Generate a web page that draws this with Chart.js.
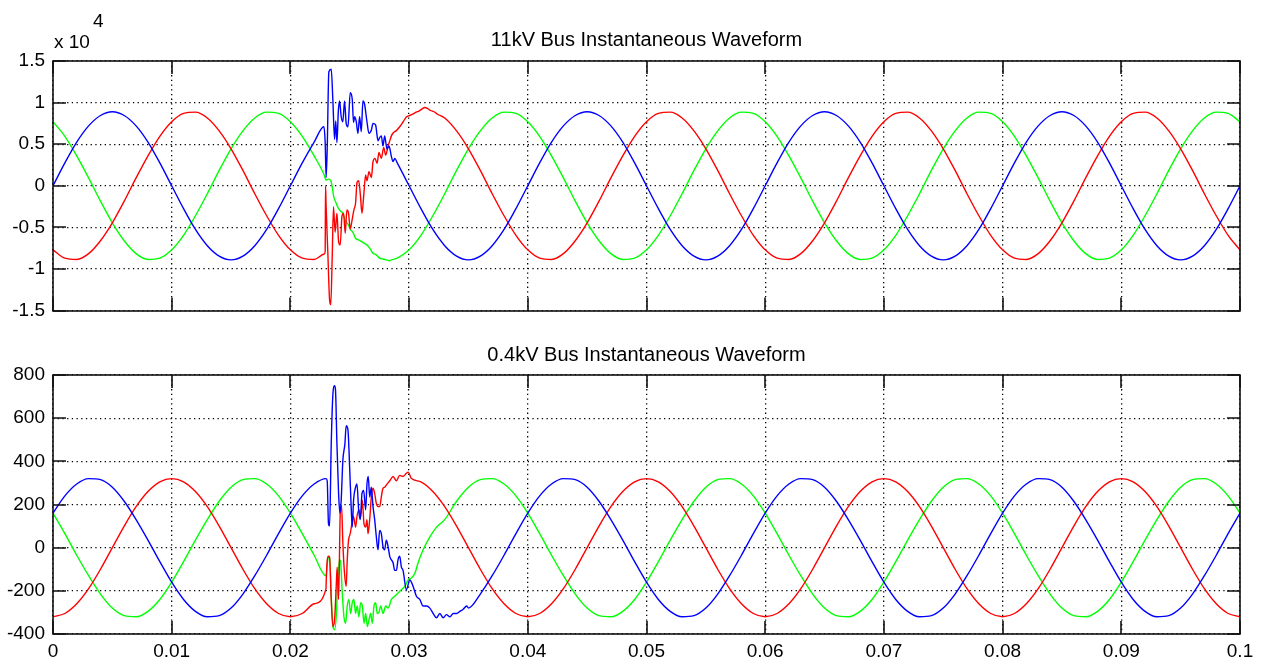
<!DOCTYPE html>
<html>
<head>
<meta charset="utf-8">
<title>Bus Instantaneous Waveforms</title>
<script src="https://cdn.jsdelivr.net/npm/chart.js@4.4.1/dist/chart.umd.min.js"></script>
<style>
  body { margin: 0; background: #fff; }
  #wrap { position: relative; width: 1262px; height: 668px; background: #fff; }
  canvas { position: absolute; left: 0; }
  #chart11 { top: 0; }
  #chart04 { top: 330px; }
</style>
</head>
<body>
<div id="wrap">
  <canvas id="chart11" width="1262" height="330"></canvas>
  <canvas id="chart04" width="1262" height="338"></canvas>
</div>
<script>
'use strict';

// time samples (s) for the steady-state parts of the waveforms
const time = [
  0, 0.001, 0.002, 0.003, 0.004, 0.005, 0.006, 0.007, 0.008, 0.009,
  0.010, 0.011, 0.012, 0.013, 0.014, 0.015, 0.016, 0.017, 0.018, 0.019,
  0.020, 0.021, 0.022, 0.023, 0.024, 0.025, 0.026, 0.027, 0.028, 0.029,
  0.030, 0.031, 0.032, 0.033, 0.034, 0.035, 0.036, 0.037, 0.038, 0.039,
  0.040, 0.041, 0.042, 0.043, 0.044, 0.045, 0.046, 0.047, 0.048, 0.049,
  0.050, 0.051, 0.052, 0.053, 0.054, 0.055, 0.056, 0.057, 0.058, 0.059,
  0.060, 0.061, 0.062, 0.063, 0.064, 0.065, 0.066, 0.067, 0.068, 0.069,
  0.070, 0.071, 0.072, 0.073, 0.074, 0.075, 0.076, 0.077, 0.078, 0.079,
  0.080, 0.081, 0.082, 0.083, 0.084, 0.085, 0.086, 0.087, 0.088, 0.089,
  0.090, 0.091, 0.092, 0.093, 0.094, 0.095, 0.096, 0.097, 0.098, 0.099,
  0.100
];

// 11kV bus (V)
const blue11 = [
  0, 2750, 5250, 7200, 8450, 8900, 8450, 7200, 5250, 2750, 0, -2750, -5250, -7200, -8450, -8900, -8450, -7200, -5250, -2750,
  0, 2750, 5250, 7200, 8450, 8900, 8450, 7200, 5250, 2750, 0, -2750, -5250, -7200, -8450, -8900, -8450, -7200, -5250, -2750,
  0, 2750, 5250, 7200, 8450, 8900, 8450, 7200, 5250, 2750, 0, -2750, -5250, -7200, -8450, -8900, -8450, -7200, -5250, -2750,
  0, 2750, 5250, 7200, 8450, 8900, 8450, 7200, 5250, 2750, 0, -2750, -5250, -7200, -8450, -8900, -8450, -7200, -5250, -2750,
  0, 2750, 5250, 7200, 8450, 8900, 8450, 7200, 5250, 2750, 0, -2750, -5250, -7200, -8450, -8900, -8450, -7200, -5250, -2750,
  0
];
const red11 = [
  -7700, -8700, -8850, -8150, -6600, -4450, -1850, 950, 3600, 5950, 7700, 8700, 8850, 8150, 6600, 4450, 1850, -950, -3600, -5950,
  -7700, -8700, -8850, -8150, -6600, -4450, -1850, 950, 3600, 5950, 7700, 8700, 8850, 8150, 6600, 4450, 1850, -950, -3600, -5950,
  -7700, -8700, -8850, -8150, -6600, -4450, -1850, 950, 3600, 5950, 7700, 8700, 8850, 8150, 6600, 4450, 1850, -950, -3600, -5950,
  -7700, -8700, -8850, -8150, -6600, -4450, -1850, 950, 3600, 5950, 7700, 8700, 8850, 8150, 6600, 4450, 1850, -950, -3600, -5950,
  -7700, -8700, -8850, -8150, -6600, -4450, -1850, 950, 3600, 5950, 7700, 8700, 8850, 8150, 6600, 4450, 1850, -950, -3600, -5950,
  -7700
];
const green11 = [
  7700, 5950, 3600, 950, -1850, -4450, -6600, -8150, -8850, -8700, -7700, -5950, -3600, -950, 1850, 4450, 6600, 8150, 8850, 8700,
  7700, 5950, 3600, 950, -1850, -4450, -6600, -8150, -8850, -8700, -7700, -5950, -3600, -950, 1850, 4450, 6600, 8150, 8850, 8700,
  7700, 5950, 3600, 950, -1850, -4450, -6600, -8150, -8850, -8700, -7700, -5950, -3600, -950, 1850, 4450, 6600, 8150, 8850, 8700,
  7700, 5950, 3600, 950, -1850, -4450, -6600, -8150, -8850, -8700, -7700, -5950, -3600, -950, 1850, 4450, 6600, 8150, 8850, 8700,
  7700, 5950, 3600, 950, -1850, -4450, -6600, -8150, -8850, -8700, -7700, -5950, -3600, -950, 1850, 4450, 6600, 8150, 8850, 8700,
  7700
];

// 11kV fault transient [t, V]
const blue11Fault = [
  [0.02282, 7100], [0.02293, 5200], [0.02301, 1000], [0.02310, 4400], [0.02324, 13700], [0.02344, 14000],
  [0.02358, 10200], [0.02372, 5600], [0.02382, 7800], [0.02392, 5200], [0.02404, 9000], [0.02414, 10200],
  [0.02428, 8300], [0.02442, 7700], [0.02456, 10200], [0.02470, 7500], [0.02485, 7100], [0.02504, 11200],
  [0.02521, 10400], [0.02532, 7600], [0.02541, 8300], [0.02555, 7700], [0.02569, 6300], [0.02583, 8300],
  [0.02597, 6500], [0.02611, 10200], [0.02625, 9800], [0.02645, 7700], [0.02662, 6300], [0.02682, 6700],
  [0.02696, 7500], [0.02718, 7300], [0.02738, 5400], [0.02752, 5800], [0.02766, 6000], [0.02780, 4800],
  [0.02794, 6000], [0.02814, 4400], [0.02831, 4800], [0.02851, 3500], [0.02865, 2900], [0.02879, 3300]
];
const red11Fault = [
  [0.02285, -8200], [0.02293, -7900], [0.02296, 0], [0.02301, -2500], [0.02315, -7900], [0.02330, -13700],
  [0.02340, -14300], [0.02352, -8700], [0.02363, -2500], [0.02377, -5600], [0.02392, -3300], [0.02406, -6700],
  [0.02420, -7100], [0.02434, -3700], [0.02448, -3300], [0.02462, -5700], [0.02476, -2900], [0.02490, -3300],
  [0.02504, -5200], [0.02521, -4000], [0.02535, -2900], [0.02549, -2100], [0.02561, 400], [0.02575, 600],
  [0.02589, -1000], [0.02603, -3300], [0.02617, -1300], [0.02634, 1300], [0.02645, 600], [0.02662, 1700],
  [0.02682, 1000], [0.02696, 2900], [0.02713, 3300], [0.02730, 2700], [0.02746, 4000], [0.02766, 3300],
  [0.02786, 4600], [0.02803, 3700], [0.02823, 4800], [0.02837, 5400], [0.02851, 6000], [0.02865, 6350],
  [0.02890, 6600], [0.02921, 7100], [0.02950, 7700], [0.02977, 8270], [0.03005, 8450], [0.03034, 8650],
  [0.03060, 8850], [0.03090, 9040], [0.03110, 9250], [0.03132, 9420], [0.03155, 9300], [0.03180, 9050],
  [0.03210, 8900], [0.03240, 8600]
];
const green11Fault = [
  [0.02285, 1300], [0.02300, 700], [0.02320, 800], [0.02340, 600], [0.02352, -100], [0.02365, -1300],
  [0.02386, -2100], [0.02400, -2600], [0.02420, -3000], [0.02442, -3300], [0.02462, -4200], [0.02485, -4600],
  [0.02504, -5200], [0.02527, -5600], [0.02549, -6300], [0.02575, -6500], [0.02600, -6700], [0.02620, -6900],
  [0.02645, -7100], [0.02668, -7500], [0.02696, -8100], [0.02724, -8300], [0.02752, -8700], [0.02780, -8800],
  [0.02808, -8900], [0.02837, -9000], [0.02850, -8900]
];

// 0.4kV bus (V)
const blue04 = [
  160, 240, 295, 320, 315, 280, 215, 130, 35, -65, -160, -240, -295, -320, -315, -280, -215, -130, -35, 65,
  160, 240, 295, 320, 315, 280, 215, 130, 35, -65, -160, -240, -295, -320, -315, -280, -215, -130, -35, 65,
  160, 240, 295, 320, 315, 280, 215, 130, 35, -65, -160, -240, -295, -320, -315, -280, -215, -130, -35, 65,
  160, 240, 295, 320, 315, 280, 215, 130, 35, -65, -160, -240, -295, -320, -315, -280, -215, -130, -35, 65,
  160, 240, 295, 320, 315, 280, 215, 130, 35, -65, -160, -240, -295, -320, -315, -280, -215, -130, -35, 65,
  160
];
const red04 = [
  -320, -305, -260, -190, -100, 0, 100, 190, 260, 305, 320, 305, 260, 190, 100, 0, -100, -190, -260, -305,
  -320, -305, -260, -190, -100, 0, 100, 190, 260, 305, 320, 305, 260, 190, 100, 0, -100, -190, -260, -305,
  -320, -305, -260, -190, -100, 0, 100, 190, 260, 305, 320, 305, 260, 190, 100, 0, -100, -190, -260, -305,
  -320, -305, -260, -190, -100, 0, 100, 190, 260, 305, 320, 305, 260, 190, 100, 0, -100, -190, -260, -305,
  -320, -305, -260, -190, -100, 0, 100, 190, 260, 305, 320, 305, 260, 190, 100, 0, -100, -190, -260, -305,
  -320
];
const green04 = [
  160, 65, -35, -130, -215, -280, -315, -320, -295, -240, -160, -65, 35, 130, 215, 280, 315, 320, 295, 240,
  160, 65, -35, -130, -215, -280, -315, -320, -295, -240, -160, -65, 35, 130, 215, 280, 315, 320, 295, 240,
  160, 65, -35, -130, -215, -280, -315, -320, -295, -240, -160, -65, 35, 130, 215, 280, 315, 320, 295, 240,
  160, 65, -35, -130, -215, -280, -315, -320, -295, -240, -160, -65, 35, 130, 215, 280, 315, 320, 295, 240,
  160, 65, -35, -130, -215, -280, -315, -320, -295, -240, -160, -65, 35, 130, 215, 280, 315, 320, 295, 240,
  160
];

// 0.4kV fault transient [t, V]
const blue04Fault = [
  [0.02301, 320], [0.02310, 310], [0.02321, 110], [0.02330, 100], [0.02344, 480], [0.02358, 710],
  [0.02372, 750], [0.02380, 730], [0.02392, 480], [0.02406, 250], [0.02417, 160], [0.02428, 220],
  [0.02442, 405], [0.02459, 480], [0.02470, 565], [0.02485, 545], [0.02499, 375], [0.02513, 175],
  [0.02521, 95], [0.02532, 220], [0.02549, 280], [0.02561, 295], [0.02575, 175], [0.02589, 130],
  [0.02603, 250], [0.02617, 265], [0.02634, 175], [0.02645, 295], [0.02656, 330], [0.02668, 235],
  [0.02682, 280], [0.02696, 190], [0.02710, 130], [0.02724, 50], [0.02738, -10], [0.02752, 80],
  [0.02766, 65], [0.02780, 5], [0.02794, -10], [0.02808, 35], [0.02823, 5], [0.02837, -40],
  [0.02865, -70], [0.02879, -105], [0.02893, -105], [0.02907, -55], [0.02921, -40], [0.02935, -90],
  [0.02949, -105], [0.02977, -195], [0.03006, -150], [0.03034, -180], [0.03062, -225], [0.03090, -240],
  [0.03118, -270], [0.03146, -270], [0.03175, -280], [0.03203, -305], [0.03231, -325], [0.03259, -305],
  [0.03287, -325], [0.03315, -310], [0.03344, -320], [0.03372, -305], [0.03400, -305], [0.03428, -295],
  [0.03456, -285], [0.03485, -270]
];
const red04Fault = [
  [0.02301, -170], [0.02310, -60], [0.02321, -40], [0.02330, -45], [0.02344, -240], [0.02358, -365],
  [0.02372, -335], [0.02386, -180], [0.02394, -90], [0.02406, -240], [0.02420, 160], [0.02431, 195],
  [0.02442, 20], [0.02456, -120], [0.02470, -180], [0.02479, -55], [0.02490, 35], [0.02504, 65],
  [0.02518, 110], [0.02532, 145], [0.02549, 95], [0.02561, 145], [0.02577, 175], [0.02592, 145],
  [0.02606, 220], [0.02620, 110], [0.02634, 95], [0.02645, 130], [0.02654, 65], [0.02668, 130],
  [0.02682, 235], [0.02696, 275], [0.02710, 250], [0.02724, 205], [0.02738, 190], [0.02752, 190],
  [0.02766, 235], [0.02780, 275], [0.02794, 280], [0.02808, 290], [0.02837, 310], [0.02865, 330],
  [0.02893, 310], [0.02921, 335], [0.02949, 330], [0.02977, 345], [0.02992, 350], [0.03020, 320]
];
const green04Fault = [
  [0.02315, -55], [0.02330, -40], [0.02344, -225], [0.02358, -365], [0.02372, -380], [0.02386, -320],
  [0.02400, -150], [0.02414, -55], [0.02423, -65], [0.02437, -210], [0.02451, -320], [0.02465, -350],
  [0.02479, -270], [0.02493, -240], [0.02507, -305], [0.02521, -255], [0.02535, -240], [0.02549, -305],
  [0.02563, -270], [0.02577, -320], [0.02592, -255], [0.02606, -270], [0.02620, -350], [0.02634, -305],
  [0.02648, -365], [0.02662, -335], [0.02676, -305], [0.02690, -350], [0.02704, -270], [0.02718, -255],
  [0.02732, -305], [0.02746, -300], [0.02761, -270], [0.02780, -305], [0.02803, -270], [0.02823, -280],
  [0.02851, -240], [0.02879, -225], [0.02907, -210], [0.02935, -195], [0.02963, -180], [0.02992, -150],
  [0.03020, -140], [0.03048, -120], [0.03076, -70], [0.03118, -10], [0.03175, 50], [0.03231, 95]
];

const xTicks = { min: 0, max: 0.1, step: 0.01 };
const FONT = "'Liberation Sans', Arial, sans-serif";

// steady samples outside the fault window + the fault samples
function buildSeries(steady, fault) {
  let start = fault[0][0];
  let end = fault[fault.length - 1][0];
  let pts = [];
  for (let i = 0; i < time.length; i++) {
    if (time[i] < start || time[i] > end) pts.push({ x: time[i], y: steady[i] });
  }
  fault.forEach(p => pts.push({ x: p[0], y: p[1] }));
  pts.sort((a, b) => a.x - b.x);
  return pts;
}

function lineSet(label, color, data) {
  return {
    label: label,
    data: data,
    borderColor: color,
    borderWidth: 1.4,
    pointRadius: 0,
    fill: false,
    cubicInterpolationMode: 'monotone'
  };
}

// matlab style box with inward tick marks
const matlabBox = {
  id: 'matlabBox',
  afterDraw(chart) {
    let ctx = chart.ctx;
    let a = chart.chartArea;
    let xs = chart.scales.x;
    let ys = chart.scales.y;
    let len = 13;
    ctx.save();
    ctx.strokeStyle = '#111';
    ctx.lineWidth = 1.6;
    ctx.beginPath();
    xs.ticks.forEach(t => {
      let px = Math.round(xs.getPixelForValue(t.value));
      ctx.moveTo(px, a.bottom); ctx.lineTo(px, a.bottom - len);
      ctx.moveTo(px, a.top); ctx.lineTo(px, a.top + len);
    });
    ys.ticks.forEach(t => {
      let py = Math.round(ys.getPixelForValue(t.value));
      ctx.moveTo(a.left, py); ctx.lineTo(a.left + len, py);
      ctx.moveTo(a.right, py); ctx.lineTo(a.right - len, py);
    });
    ctx.stroke();
    ctx.strokeRect(Math.round(a.left), Math.round(a.top), Math.round(a.right - a.left), Math.round(a.bottom - a.top));
    ctx.restore();
  }
};

// "x 10^4" multiplier above the top axis
const exponentLabel = {
  id: 'exponentLabel',
  afterDraw(chart) {
    let ctx = chart.ctx;
    ctx.save();
    ctx.fillStyle = '#000';
    ctx.textBaseline = 'alphabetic';
    ctx.textAlign = 'left';
    ctx.font = '19px ' + FONT;
    ctx.fillText('x 10', 54, 48);
    ctx.fillText('4', 93, 27);
    ctx.restore();
  }
};

function waveOptions(opt) {
  return {
    responsive: false,
    animation: false,
    events: [],
    layout: { padding: { top: 0, right: 22, bottom: opt.padBottom, left: 0 } },
    plugins: {
      legend: { display: false },
      tooltip: { enabled: false },
      title: {
        display: true,
        text: opt.title,
        fullSize: false,
        color: '#000',
        font: { family: FONT, size: 20, weight: 'normal', lineHeight: 1.2 },
        padding: { top: opt.titleTop, bottom: opt.titleBottom }
      }
    },
    scales: {
      x: {
        type: 'linear',
        min: xTicks.min,
        max: xTicks.max,
        ticks: {
          stepSize: xTicks.step,
          display: opt.showX,
          autoSkip: false,
          maxRotation: 0,
          padding: 6,
          color: '#000',
          font: { family: FONT, size: 19 },
          callback: v => String(Number(v.toFixed(2)))
        },
        grid: { color: '#000', lineWidth: 1.3, drawTicks: false },
        border: { display: false, dash: [1.3, 3.4] },
        afterFit: s => { s.height = opt.showX ? 34 : 0; }
      },
      y: {
        min: opt.yMin,
        max: opt.yMax,
        ticks: {
          stepSize: opt.yStep,
          padding: 8,
          color: '#000',
          font: { family: FONT, size: 19 },
          callback: opt.yFormat
        },
        grid: { color: '#000', lineWidth: 1.3, drawTicks: false },
        border: { display: false, dash: [1.3, 3.4] },
        afterFit: s => { s.width = 53; }
      }
    }
  };
}

function renderCharts() {
  new Chart(document.getElementById('chart11'), {
    type: 'line',
    data: {
      datasets: [
        lineSet('Phase B', '#0000ff', buildSeries(blue11, blue11Fault)),
        lineSet('Phase A', '#ff0000', buildSeries(red11, red11Fault)),
        lineSet('Phase C', '#00ff00', buildSeries(green11, green11Fault))
      ]
    },
    options: waveOptions({
      title: '11kV Bus Instantaneous Waveform',
      titleTop: 28, titleBottom: 9, padBottom: 12, showX: false,
      yMin: -15000, yMax: 15000, yStep: 5000,
      yFormat: v => String(v / 10000)
    }),
    plugins: [matlabBox, exponentLabel]
  });

  new Chart(document.getElementById('chart04'), {
    type: 'line',
    data: {
      datasets: [
        lineSet('Phase B', '#0000ff', buildSeries(blue04, blue04Fault)),
        lineSet('Phase A', '#ff0000', buildSeries(red04, red04Fault)),
        lineSet('Phase C', '#00ff00', buildSeries(green04, green04Fault))
      ]
    },
    options: waveOptions({
      title: '0.4kV Bus Instantaneous Waveform',
      titleTop: 13, titleBottom: 8, padBottom: 0, showX: true,
      yMin: -400, yMax: 800, yStep: 200,
      yFormat: v => String(v)
    }),
    plugins: [matlabBox]
  });
}

renderCharts();
</script>
</body>
</html>
